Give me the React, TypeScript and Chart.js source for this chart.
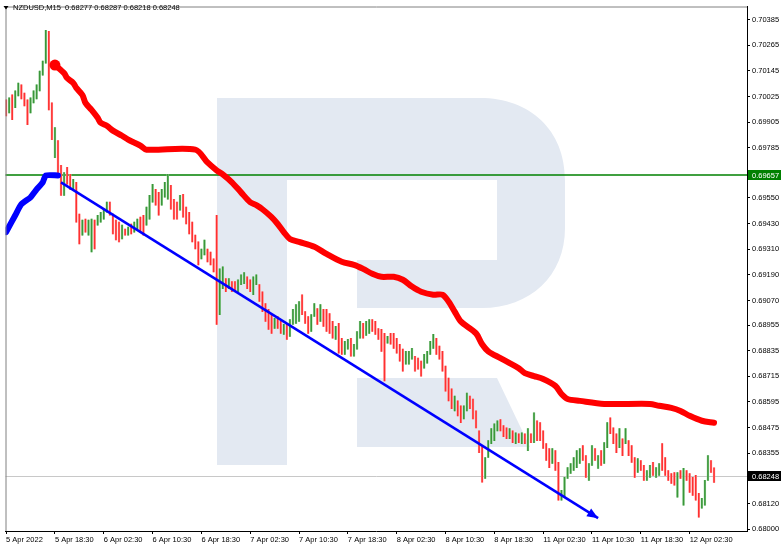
import React, { useEffect, useRef } from "react";
import { Chart, registerables } from "chart.js";

Chart.register(...registerables);

// ---- DATA (30-minute bars, index 0 = 5 Apr 2022 10:30) ----
const barHighs = [
  0.70009, 0.70018, 0.70032, 0.70051, 0.70088, 0.70079, 0.70041, 0.70009, 0.70018, 0.70051,
  0.70079, 0.70144, 0.7019, 0.70334, 0.7033, 0.69995, 0.69879, 0.69818, 0.69702, 0.69669,
  0.69693, 0.6966, 0.69637, 0.69623, 0.69474, 0.69446, 0.69451, 0.69446, 0.69451, 0.69446,
  0.69469, 0.69483, 0.69497, 0.6953, 0.6953, 0.69474, 0.69446, 0.69437, 0.69423, 0.69404,
  0.69414, 0.69428, 0.69437, 0.69451, 0.6946, 0.69469, 0.69507, 0.69562, 0.69614, 0.6959,
  0.69576, 0.6959, 0.69623, 0.6966, 0.69609, 0.69544, 0.6953, 0.69562, 0.69567, 0.69507,
  0.69483, 0.69437, 0.69376, 0.69344, 0.69311, 0.69353, 0.69311, 0.69297, 0.69265, 0.69469,
  0.69218, 0.69228, 0.69172, 0.69172, 0.69158, 0.69158, 0.69167, 0.6919, 0.692, 0.69181,
  0.69167, 0.69181, 0.6919, 0.69144, 0.69111, 0.69056, 0.69028, 0.69004, 0.68986, 0.68995,
  0.68972, 0.68958, 0.68958, 0.68981, 0.69028, 0.69051, 0.69065, 0.69097, 0.69018, 0.68995,
  0.69004, 0.69056, 0.69032, 0.69051, 0.69028, 0.69028, 0.69009, 0.68972, 0.68949, 0.68963,
  0.68893, 0.68879, 0.68888, 0.68893, 0.68865, 0.68925, 0.68972, 0.68963, 0.68972, 0.68981,
  0.68981, 0.68972, 0.68939, 0.68935, 0.68916, 0.68902, 0.68916, 0.68916, 0.68893, 0.68865,
  0.68842, 0.68832, 0.68832, 0.68846, 0.68809, 0.688, 0.68786, 0.68818, 0.68832, 0.68879,
  0.68911, 0.68893, 0.68856, 0.68832, 0.68763, 0.68707, 0.68656, 0.68623, 0.686, 0.68577,
  0.68577, 0.68637, 0.68623, 0.68609, 0.68553, 0.6846, 0.68391, 0.68335, 0.68414, 0.6847,
  0.68493, 0.68507, 0.68512, 0.68484, 0.68474, 0.6847, 0.6846, 0.68451, 0.68446, 0.68451,
  0.68446, 0.6847, 0.68446, 0.68544, 0.68507, 0.68498, 0.6846, 0.684, 0.68377, 0.68377,
  0.68367, 0.68312, 0.68181, 0.68242, 0.68288, 0.68307, 0.68335, 0.68367, 0.68377, 0.68391,
  0.68344, 0.68307, 0.68391, 0.68377, 0.68344, 0.68367, 0.68405, 0.68498, 0.68521, 0.68474,
  0.68446, 0.6847, 0.68423, 0.6847, 0.68414, 0.68391, 0.68335, 0.6833, 0.68321, 0.68298,
  0.68274, 0.68298, 0.68312, 0.68288, 0.68307, 0.684, 0.68335, 0.68274, 0.6826, 0.68265,
  0.68265, 0.68274, 0.68284, 0.68274, 0.6826, 0.68242, 0.68251, 0.68167, 0.68144, 0.68228,
  0.68344, 0.68321, 0.68287,
];

const barLows = [
  0.69934, 0.69948, 0.69916, 0.69972, 0.70027, 0.70013, 0.69981, 0.69893, 0.69948, 0.69995,
  0.70013, 0.70051, 0.70125, 0.70181, 0.69962, 0.69823, 0.69739, 0.69655, 0.69562, 0.69562,
  0.69614, 0.6959, 0.69586, 0.69437, 0.69335, 0.69376, 0.6939, 0.69376, 0.69297, 0.69311,
  0.69423, 0.69437, 0.69451, 0.69483, 0.69469, 0.69381, 0.69353, 0.69344, 0.69358, 0.69376,
  0.69376, 0.69381, 0.6939, 0.69404, 0.6939, 0.69376, 0.69423, 0.69451, 0.6953, 0.69516,
  0.69469, 0.69516, 0.69553, 0.69544, 0.69497, 0.69451, 0.69451, 0.69493, 0.6946, 0.69428,
  0.69381, 0.69344, 0.69311, 0.69237, 0.69265, 0.69283, 0.69251, 0.69237, 0.69204, 0.68958,
  0.69004, 0.69125, 0.69111, 0.69125, 0.69111, 0.69111, 0.69111, 0.69144, 0.69149, 0.69125,
  0.69111, 0.69097, 0.69144, 0.69065, 0.69018, 0.68972, 0.68935, 0.68916, 0.68939, 0.68939,
  0.68916, 0.68911, 0.68888, 0.68902, 0.68958, 0.68963, 0.68972, 0.69004, 0.68963, 0.68916,
  0.68925, 0.68995, 0.68958, 0.68972, 0.68949, 0.68925, 0.68916, 0.68893, 0.68888, 0.68823,
  0.68818, 0.68818, 0.68842, 0.68809, 0.68809, 0.68842, 0.68893, 0.68893, 0.68907, 0.68916,
  0.68925, 0.68911, 0.68888, 0.68832, 0.68693, 0.6887, 0.68865, 0.68846, 0.68823, 0.68786,
  0.68739, 0.68772, 0.68772, 0.68795, 0.68739, 0.68749, 0.68716, 0.68753, 0.68777, 0.68818,
  0.68846, 0.68818, 0.68795, 0.68739, 0.68646, 0.686, 0.68563, 0.68553, 0.6853, 0.68498,
  0.68516, 0.68553, 0.68563, 0.68516, 0.68474, 0.68358, 0.68219, 0.68237, 0.68335, 0.684,
  0.68414, 0.6846, 0.6846, 0.68432, 0.68423, 0.68423, 0.68405, 0.684, 0.68405, 0.684,
  0.684, 0.68367, 0.68405, 0.68405, 0.68414, 0.68414, 0.68377, 0.68321, 0.68288, 0.68307,
  0.68274, 0.68135, 0.68135, 0.68149, 0.68237, 0.6826, 0.68274, 0.68288, 0.68307, 0.68321,
  0.68242, 0.68228, 0.68298, 0.68321, 0.68284, 0.68298, 0.68307, 0.68381, 0.68446, 0.684,
  0.68358, 0.68381, 0.68344, 0.684, 0.68344, 0.68312, 0.68242, 0.68265, 0.68274, 0.68228,
  0.68228, 0.68242, 0.68251, 0.68242, 0.68251, 0.68274, 0.68251, 0.68228, 0.68214, 0.68205,
  0.68149, 0.68237, 0.68112, 0.68228, 0.68172, 0.68158, 0.68135, 0.68056, 0.68098, 0.68112,
  0.68228, 0.68265, 0.68218,
];

// u = bullish bar, d = bearish bar
const barDirections = [
  "duduu", "ddduu", "uuuud", "duddu", "ddudd", "uduud", "uuuud", "dddud", "uduud", "duuud",
  "duuud", "ddudd", "ddddu", "udddd", "uudud", "duuud", "duudd", "dddud", "duduu", "uuddd",
  "uudud", "dddud", "duudu", "uuduu", "ddddd", "udddd", "duuud", "dduuu", "udddd", "ddudd",
  "uuddd", "dduuu", "uuddd", "ududu", "dudud", "ddddu", "dduuu", "uuuud", "duudu", "duudd",
  "dudud", "ddudd", "uuduu", "ddddd", "ududd", "ddduu", "udd",
].join("");

// red moving average (bar index, value)
const maBars = [16, 19, 20, 22, 23, 25, 26, 28, 30, 31, 33, 35, 38, 40, 42, 44, 46, 62, 66, 69, 71, 74, 77, 80, 82, 84, 87, 89, 91, 93, 96, 101, 105, 110, 114, 117, 120, 123, 127, 130, 133, 136, 140, 143, 145, 147, 149, 154, 156, 158, 162, 165, 168, 170, 173, 176, 180, 182, 184, 188, 196, 211, 214, 218, 221, 224, 228, 232];
const maValues = [0.70172, 0.70134, 0.70111, 0.70088, 0.70065, 0.70032, 0.69995, 0.69962, 0.69925, 0.69902, 0.69888, 0.69865, 0.69841, 0.69823, 0.69809, 0.69795, 0.69776, 0.69776, 0.69716, 0.69679, 0.6966, 0.69623, 0.69576, 0.6953, 0.69516, 0.69497, 0.6946, 0.69428, 0.6939, 0.69358, 0.69344, 0.69321, 0.69288, 0.69251, 0.69237, 0.69218, 0.69195, 0.69181, 0.69181, 0.69167, 0.69135, 0.69111, 0.69097, 0.69097, 0.69065, 0.69018, 0.68972, 0.68916, 0.68865, 0.68832, 0.688, 0.68777, 0.68753, 0.6873, 0.68716, 0.68702, 0.6867, 0.68632, 0.68609, 0.686, 0.68586, 0.68586, 0.68577, 0.68567, 0.68553, 0.6853, 0.68507, 0.68498];

// blue indicator line (left)
const blueBars = [0, 3, 5, 8, 10, 12, 13, 17];
const blueValues = [0.6939, 0.69469, 0.69521, 0.69553, 0.6959, 0.69623, 0.69655, 0.69655];

// blue trend line with arrow
const trendBars = [18, 194];
const trendValues = [0.69623, 0.68051];

const levelPrice = 0.69657;
const bidPrice = 0.68248;

const xTickBars = [0, 16, 32, 48, 64, 80, 96, 112, 128, 144, 160, 176, 192, 208, 224];
const xTickLabels = [
  "5 Apr 2022", "5 Apr 18:30", "6 Apr 02:30", "6 Apr 10:30", "6 Apr 18:30",
  "7 Apr 02:30", "7 Apr 10:30", "7 Apr 18:30", "8 Apr 02:30", "8 Apr 10:30",
  "8 Apr 18:30", "11 Apr 02:30", "11 Apr 10:30", "11 Apr 18:30", "12 Apr 02:30",
];
const yTickValues = [
  0.70385, 0.70265, 0.70145, 0.70025, 0.69905, 0.69785, 0.6955, 0.6943, 0.6931, 0.6919,
  0.6907, 0.68955, 0.68835, 0.68715, 0.68595, 0.68475, 0.68355, 0.6812, 0.68,
];
const titleText = "NZDUSD,M15  0.68277 0.68287 0.68218 0.68248";

const FONT = "Liberation Sans";
const FSIZE = 7.5;

const decorPlugin = {
  id: "decor",
  beforeDatasetsDraw(chart: any) {
    const { ctx, chartArea: a, scales } = chart;
    const y = scales.y;
    ctx.save();
    // watermark logo
    ctx.fillStyle = "rgb(227,233,242)";
    ctx.beginPath();
    ctx.moveTo(217, 98);
    ctx.lineTo(480, 98);
    ctx.bezierCurveTo(530, 98, 565, 130, 565, 180);
    ctx.lineTo(565, 228);
    ctx.bezierCurveTo(565, 276, 530, 308, 482, 308);
    ctx.lineTo(357, 308);
    ctx.lineTo(357, 260);
    ctx.lineTo(497, 260);
    ctx.lineTo(497, 180);
    ctx.lineTo(287, 180);
    ctx.lineTo(287, 465);
    ctx.lineTo(217, 465);
    ctx.closePath();
    ctx.fill();
    ctx.beginPath();
    ctx.moveTo(357, 378);
    ctx.lineTo(497, 378);
    ctx.lineTo(530, 447);
    ctx.lineTo(357, 447);
    ctx.closePath();
    ctx.fill();
    // bid line
    const by = Math.round(y.getPixelForValue(bidPrice)) + 0.5;
    ctx.strokeStyle = "#c8c8c8";
    ctx.lineWidth = 1;
    ctx.beginPath();
    ctx.moveTo(a.left, by);
    ctx.lineTo(a.right, by);
    ctx.stroke();
    // green level
    const gy = y.getPixelForValue(levelPrice);
    ctx.strokeStyle = "#008000";
    ctx.lineWidth = 1.6;
    ctx.beginPath();
    ctx.moveTo(a.left, gy);
    ctx.lineTo(a.right, gy);
    ctx.stroke();
    ctx.restore();
  },
  afterDatasetsDraw(chart: any) {
    const { ctx, chartArea: a, scales } = chart;
    const y = scales.y;
    ctx.save();
    // arrow head on trend line
    const idx = chart.data.datasets.findIndex((d: any) => d.label === "trend");
    const pts = chart.getDatasetMeta(idx).data;
    if (pts.length === 2) {
      const p0 = pts[0], p1 = pts[1];
      const ang = Math.atan2(p1.y - p0.y, p1.x - p0.x);
      const L = 11, W = 4.5;
      ctx.fillStyle = "#0000ff";
      ctx.beginPath();
      ctx.moveTo(p1.x, p1.y);
      ctx.lineTo(p1.x - L * Math.cos(ang) + W * Math.sin(ang), p1.y - L * Math.sin(ang) - W * Math.cos(ang));
      ctx.lineTo(p1.x - L * Math.cos(ang) - W * Math.sin(ang), p1.y - L * Math.sin(ang) + W * Math.cos(ang));
      ctx.closePath();
      ctx.fill();
    }
    // frame (top and left)
    ctx.strokeStyle = "#808080";
    ctx.lineWidth = 1;
    ctx.beginPath();
    ctx.moveTo(a.left + 0.5, a.bottom);
    ctx.lineTo(a.left + 0.5, a.top + 0.5);
    ctx.lineTo(a.right, a.top + 0.5);
    ctx.stroke();
    // price boxes on the axis
    ctx.font = `${FSIZE}px "${FONT}"`;
    ctx.textBaseline = "middle";
    ctx.textAlign = "left";
    const boxes = [
      { v: levelPrice, bg: "#008000" },
      { v: bidPrice, bg: "#000000" },
    ];
    boxes.forEach((b) => {
      const py = y.getPixelForValue(b.v);
      ctx.fillStyle = b.bg;
      ctx.fillRect(a.right + 1, Math.round(py) - 5, 33, 10);
      ctx.fillStyle = "#ffffff";
      ctx.fillText(b.v.toFixed(5), a.right + 5, py + 0.5);
    });
    // title
    ctx.fillStyle = "#000";
    ctx.beginPath();
    ctx.moveTo(3.5, 6);
    ctx.lineTo(8.5, 6);
    ctx.lineTo(6, 9.5);
    ctx.closePath();
    ctx.fill();
    ctx.fillText(titleText, 13, 8);
    ctx.restore();
  },
};

export default function App() {
  const canvasRef = useRef<HTMLCanvasElement | null>(null);

  useEffect(() => {
    const canvas = canvasRef.current;
    if (!canvas) return;
    const candleData = barHighs.map((h, i) => ({ x: i, y: [barLows[i], h] }));
    const chart = new Chart(canvas, {
      type: "bar",
      data: {
        datasets: [
          {
            label: "trend",
            type: "line",
            data: trendBars.map((b, i) => ({ x: b, y: trendValues[i] })),
            borderColor: "#0000ff",
            borderWidth: 2.5,
            pointRadius: 0,
            order: 1,
          } as any,
          {
            label: "ma",
            type: "line",
            data: maBars.map((b, i) => ({ x: b, y: maValues[i] })),
            borderColor: "#ff0000",
            borderWidth: 6,
            borderCapStyle: "round",
            borderJoinStyle: "round",
            tension: 0.3,
            pointRadius: (c: any) => (c.dataIndex === 0 ? 5.5 : 0),
            pointBackgroundColor: "#ff0000",
            pointBorderWidth: 0,
            order: 2,
          } as any,
          {
            label: "blue",
            type: "line",
            data: blueBars.map((b, i) => ({ x: b, y: blueValues[i] })),
            borderColor: "#0000ff",
            borderWidth: 6,
            borderCapStyle: "round",
            borderJoinStyle: "round",
            tension: 0.2,
            pointRadius: 0,
            order: 3,
          } as any,
          {
            label: "candlesDark",
            data: candleData,
            backgroundColor: barDirections.split("").map((d) => (d === "u" ? "#3a963a" : "#ff3030")),
            barThickness: 0.9,
            grouped: false,
            borderWidth: 0,
            order: 4,
          } as any,
          {
            label: "candlesLight",
            data: candleData,
            backgroundColor: barDirections.split("").map((d) => (d === "u" ? "#a3daa3" : "#ffadad")),
            barThickness: 1.7,
            grouped: false,
            borderWidth: 0,
            order: 5,
          } as any,
        ],
      },
      options: {
        responsive: false,
        animation: false,
        events: [],
        layout: { padding: { top: 3, left: 1, right: 0, bottom: 0 } },
        plugins: { legend: { display: false }, tooltip: { enabled: false }, title: { display: false } },
        scales: {
          x: {
            type: "linear",
            min: -0.2,
            max: 242.8,
            offset: false,
            afterBuildTicks: (s: any) => {
              s.ticks = xTickBars.map((v) => ({ value: v }));
            },
            afterFit: (s: any) => {
              s.height = 16;
            },
            ticks: {
              autoSkip: false,
              maxRotation: 0,
              minRotation: 0,
              align: "start",
              padding: 1,
              color: "#000",
              font: { family: FONT, size: FSIZE },
              callback: (_v: any, i: number) => xTickLabels[i],
            },
            grid: { drawOnChartArea: false, drawTicks: true, tickLength: 3, color: "#000", offset: false },
            border: { display: true, color: "#000" },
          } as any,
          y: {
            type: "linear",
            position: "right",
            min: 0.67991,
            max: 0.70446,
            afterBuildTicks: (s: any) => {
              s.ticks = yTickValues.map((v) => ({ value: v }));
            },
            afterFit: (s: any) => {
              s.width = 35;
            },
            ticks: {
              autoSkip: false,
              padding: 2,
              color: "#000",
              font: { family: FONT, size: FSIZE },
              callback: (v: any) => Number(v).toFixed(5),
            },
            grid: { drawOnChartArea: false, drawTicks: true, tickLength: 3, color: "#000" },
            border: { display: true, color: "#000" },
          } as any,
        },
      },
      plugins: [decorPlugin],
    });
    return () => chart.destroy();
  }, []);

  return (
    <div style={{ position: "fixed", left: 0, top: 0, width: 782, height: 547, background: "#fff" }}>
      <canvas ref={canvasRef} width={782} height={547} style={{ display: "block" }} />
    </div>
  );
}
